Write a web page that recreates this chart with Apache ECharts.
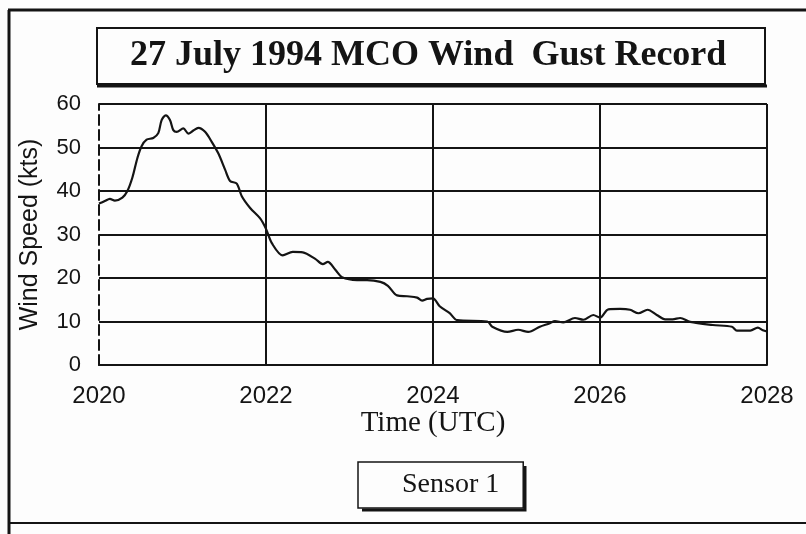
<!DOCTYPE html>
<html>
<head>
<meta charset="utf-8">
<script src="https://cdn.jsdelivr.net/npm/echarts@6/dist/echarts.min.js"></script>
<style>
  html, body { margin: 0; padding: 0; background: #fff; }
  #chart { width: 806px; height: 534px; }
</style>
</head>
<body>
<div id="chart"></div>
<script>
// 数据：时间 (UTC) 与风速 (kts)
const times = [2020.0, 2020.07, 2020.13, 2020.19, 2020.28, 2020.34, 2020.40, 2020.46, 2020.51, 2020.57,
  2020.65, 2020.71, 2020.75, 2020.80, 2020.85, 2020.89, 2020.93, 2021.01, 2021.07, 2021.13,
  2021.19, 2021.27, 2021.35, 2021.43, 2021.51, 2021.57, 2021.65, 2021.71, 2021.81, 2021.93,
  2022.0, 2022.07, 2022.20, 2022.32, 2022.44, 2022.59, 2022.68, 2022.74, 2022.83, 2022.91,
  2023.09, 2023.21, 2023.37, 2023.46, 2023.57, 2023.69, 2023.81, 2023.87, 2023.93, 2024.0,
  2024.08, 2024.20, 2024.29, 2024.65, 2024.71, 2024.89, 2025.02, 2025.14, 2025.28, 2025.40,
  2025.46, 2025.56, 2025.70, 2025.80, 2025.92, 2026.0, 2026.10, 2026.24, 2026.36, 2026.46,
  2026.57, 2026.68, 2026.78, 2026.87, 2026.96, 2027.08, 2027.35, 2027.58, 2027.64, 2027.80,
  2027.89, 2027.95, 2028.0];
const speeds = [37.1, 37.7, 38.2, 37.8, 38.5, 40, 43.1, 47.6, 50.3, 51.8,
  52.2, 53.3, 56.3, 57.4, 56.3, 54, 53.6, 54.4, 53.2, 53.9,
  54.5, 53.6, 51.3, 48.6, 44.9, 42.3, 41.7, 38.8, 36.1, 33.7,
  31.3, 28, 25.2, 26, 25.9, 24.4, 23.2, 23.7, 21.9, 20.2,
  19.5, 19.5, 19.1, 18.2, 16, 15.8, 15.5, 14.8, 15.2, 15.3,
  13.5, 11.9, 10.3, 10, 8.8, 7.6, 8.1, 7.6, 8.8, 9.6,
  10.1, 9.8, 10.8, 10.4, 11.5, 10.9, 12.8, 12.9, 12.7, 11.9,
  12.7, 11.5, 10.5, 10.5, 10.8, 9.9, 9.2, 8.8, 7.9, 7.9,
  8.6, 8, 7.7];
const xTicks = [2020, 2022, 2024, 2026, 2028];
const yTicks = [0, 10, 20, 30, 40, 50, 60];

window.onload = function () {
  let chart = echarts.init(document.getElementById('chart'));

  let ink = '#141414';
  let serif = '"Liberation Serif", "DejaVu Serif", serif';
  let sans = '"Liberation Sans", Arial, sans-serif';

  let option = {
    backgroundColor: '#fdfdfd',
    animation: false,
    // 外框 + 标题框/图例框的粗边
    graphic: [
      { type: 'line', shape: { x1: 8, y1: 10, x2: 806, y2: 10 }, style: { stroke: ink, lineWidth: 3 } },
      { type: 'line', shape: { x1: 9, y1: 10, x2: 9, y2: 534 }, style: { stroke: ink, lineWidth: 3 } },
      { type: 'line', shape: { x1: 8, y1: 523, x2: 806, y2: 523 }, style: { stroke: ink, lineWidth: 2 } },
      { type: 'line', shape: { x1: 97, y1: 86, x2: 767, y2: 86 }, style: { stroke: ink, lineWidth: 3 } },
      { type: 'polyline', shape: { points: [[362, 510], [525, 510], [525, 466]] }, style: { stroke: ink, lineWidth: 3, fill: null } }
    ],
    title: {
      text: '27 July 1994 MCO Wind  Gust Record',
      left: 97,
      top: 28,
      padding: [8, 39, 8, 33],
      borderColor: ink,
      borderWidth: 2,
      textStyle: {
        fontFamily: serif,
        fontWeight: 'bold',
        fontSize: 36,
        lineHeight: 40,
        color: ink
      }
    },
    legend: {
      data: ['Sensor 1'],
      left: 358,
      top: 462,
      padding: [9, 24, 9, 14],
      itemWidth: 25,
      itemHeight: 14,
      icon: 'rect',
      itemStyle: { opacity: 0 },
      borderColor: ink,
      borderWidth: 1.5,
      textStyle: { fontFamily: serif, fontSize: 28, color: ink }
    },
    grid: {
      left: 99,
      right: 39,
      top: 104,
      bottom: 169
    },
    xAxis: {
      type: 'value',
      min: xTicks[0],
      max: xTicks[xTicks.length - 1],
      interval: 2,
      name: 'Time (UTC)',
      nameLocation: 'middle',
      nameGap: 42,
      nameTextStyle: { fontFamily: serif, fontSize: 29, color: ink },
      axisLine: { show: true, lineStyle: { color: ink, width: 2 } },
      axisTick: { show: false },
      axisLabel: {
        fontFamily: sans,
        fontSize: 24,
        color: ink,
        margin: 19,
        formatter: function (v) { return String(v); }
      },
      splitLine: {
        show: true,
        lineStyle: { color: ['rgba(0,0,0,0)', ink, ink, ink, ink], width: 2 }
      }
    },
    yAxis: {
      type: 'value',
      min: yTicks[0],
      max: yTicks[yTicks.length - 1],
      interval: 10,
      name: 'Wind Speed (kts)',
      nameLocation: 'middle',
      nameGap: 56,
      nameTextStyle: { fontFamily: sans, fontSize: 25, color: ink },
      axisLine: { show: true, lineStyle: { color: ink, width: 2, type: [10, 5] } },
      axisTick: { show: false },
      axisLabel: { fontFamily: sans, fontSize: 22, color: ink, margin: 18 },
      splitLine: { show: true, lineStyle: { color: ink, width: 2 } }
    },
    series: [{
      name: 'Sensor 1',
      type: 'line',
      data: times.map(function (t, i) { return [t, speeds[i]]; }),
      showSymbol: false,
      smooth: 0.3,
      lineStyle: { color: ink, width: 2.2 },
      itemStyle: { color: ink }
    }]
  };

  chart.setOption(option);
};
</script>
</body>
</html>
